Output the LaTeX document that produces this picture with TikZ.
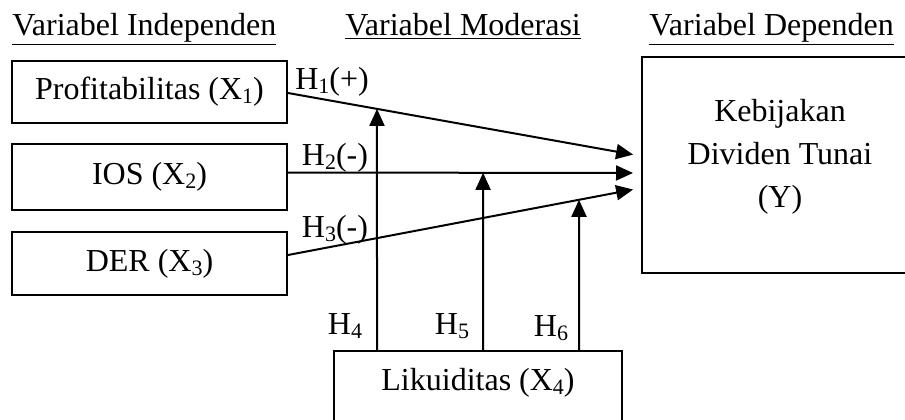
\documentclass[tikz,border=0pt]{standalone}
\usepackage{fontspec}
\setmainfont{Liberation Serif}
\usetikzlibrary{arrows.meta,calc}
% small lowered index digit, as in X1
\newcommand\lowidx[1]{\raisebox{-0.12em}{\fontsize{11}{11}\selectfont #1}}
\begin{document}
\begin{tikzpicture}[x=0.5pt,y=-0.5pt,
  font=\fontsize{16}{21.5}\selectfont,
  box/.style={draw,line width=1pt,inner sep=0pt},
  link/.style={line width=1pt,-{Triangle[length=8.5pt,width=7.5pt]}},
  head/.style={anchor=base west,inner sep=0pt},
  hyp/.style={inner sep=0pt}]
\useasboundingbox (0,0) rectangle (905,419);
\clip (0,0) rectangle (905,419);

% column headings
\node[head] (hI) at (12,35)  {\underline{Variabel Independen}};
\node[head] (hM) at (345,35) {\underline{Variabel Moderasi}};
\node[head] (hD) at (649,35) {\underline{Variabel Dependen}};

% variables
\node[box,minimum width=137.5pt,minimum height=31pt] (P) at (149.5,91.5) {Profitabilitas (X\lowidx{1})};
\node[box,minimum width=137.5pt,minimum height=33pt] (I) at (149.5,177) {IOS (X\lowidx{2})};
\node[box,minimum width=137.5pt,minimum height=31.5pt] (D) at (149.5,263.5) {DER (X\lowidx{3})};
\node[box,minimum width=138pt,minimum height=108pt,
      label={[align=center,yshift=4pt]center:Kebijakan\\Dividen Tunai\\(Y)}] (Y) at (780,165) {};
\node[box,minimum width=144pt,minimum height=50pt,
      label={[yshift=9pt]center:Likuiditas (X\lowidx{4})}] (L) at (478,401) {};

% direct effects
\coordinate (s1) at ($(P.east)+(0,1.5)$);
\coordinate (s2) at ($(I.east)+(0,-4.5)$);
\coordinate (s3) at ($(D.east)+(0,-8.5)$);
\coordinate (t1) at ($(Y.west)+(0,-9)$);
\coordinate (t2) at ($(Y.west)+(0,8)$);
\coordinate (t3) at ($(Y.west)+(0,23)$);
\draw[link,shorten >=4pt] (s1) -- (t1);
\draw[link,shorten >=4pt] (s2) -- (t2);
\draw[link,shorten >=4pt] (s3) -- (t3);

% moderating effects
\coordinate (b1) at ($(L.north)+(-101,0)$);
\coordinate (b2) at ($(L.north)+(5,0)$);
\coordinate (b3) at ($(L.north)+(101,0)$);
\coordinate (u1) at ($(b1)+(0,-300)$);
\coordinate (u2) at ($(b2)+(0,-300)$);
\coordinate (u3) at ($(b3)+(0,-300)$);
\draw[link] (b1) -- (intersection of b1--u1 and s1--t1);
\draw[link] (b2) -- (intersection of b2--u2 and s2--t2);
\draw[link] (b3) -- (intersection of b3--u3 and s3--t3);

% hypothesis labels
\node[hyp] (h1) at (332,82)  {H\lowidx{1}(+)};
\node[hyp] (h2) at (335,158) {H\lowidx{2}(-)};
\node[hyp] (h3) at (335,230) {H\lowidx{3}(-)};
\node[hyp] (h4) at (345,326) {H\lowidx{4}};
\node[hyp] (h5) at (452,326) {H\lowidx{5}};
\node[hyp] (h6) at (551,328) {H\lowidx{6}};
\end{tikzpicture}
\end{document}
